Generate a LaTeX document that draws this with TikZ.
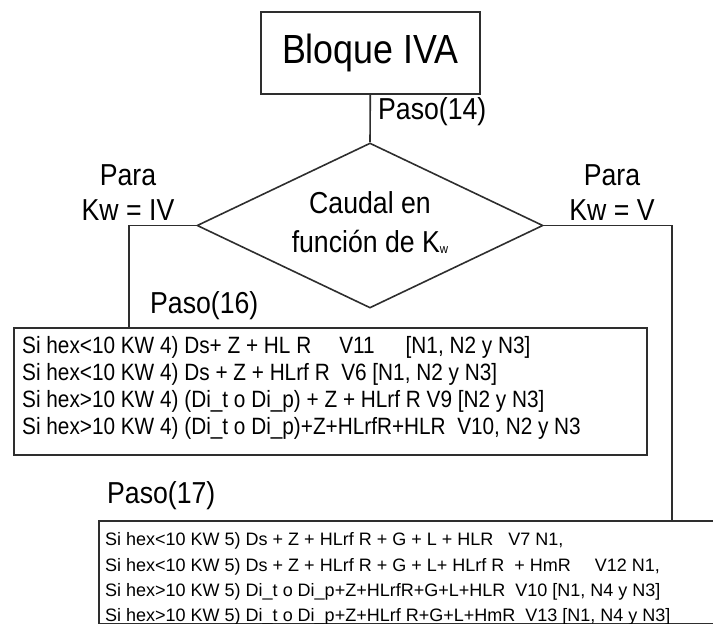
\documentclass[tikz,border=0pt]{standalone}
\usepackage{fontspec}
\setmainfont{Liberation Sans}
\newfontfamily\narrowfont[FakeStretch=0.88]{Liberation Sans}
\usetikzlibrary{shapes.geometric}
\begin{document}
\begin{tikzpicture}[x=1pt,y=-1pt,
  lw/.style={line width=1.6pt, draw=black!82},
  boxs/.style={lw, rectangle, inner sep=0, anchor=north west},
  mid/.style={inner sep=0, anchor=base, font=\narrowfont\fontsize{30.3}{33}\selectfont},
  midw/.style={mid, anchor=base west},
  rowa/.style={inner sep=0, anchor=base west, font=\narrowfont\fontsize{23.6}{26}\selectfont},
  rowb/.style={inner sep=0, anchor=base west, font=\fontsize{18}{21}\selectfont}]
\useasboundingbox (0,0) rectangle (713,624);
\clip (0,0) rectangle (713,624);

% boxes
\node[boxs, minimum width=219pt, minimum height=82pt,
      font=\narrowfont\fontsize{40.7}{44}\selectfont] (bloque) at (260,11) {Bloque IVA};
\node[draw, lw, diamond, aspect=2.1, inner sep=0,
      minimum width=346pt, minimum height=165pt] (dia) at (370,225.5) {};
\node[boxs, minimum width=633pt, minimum height=127pt] (box1) at (13,327) {};
\node[boxs, minimum width=640pt, minimum height=103pt] (box2) at (98,520) {};

% connectors
\coordinate (lc) at (129,327);
\coordinate (rc) at (672,520);
\draw[lw] (bloque.south) -- (dia.north);
\draw[lw] (dia.west) -| (lc);
\draw[lw] (dia.east) -| (rc);

% labels
\node[midw] (p14) at (378,119.5) {Paso(14)};
\node[mid] (paraL) at (128,185) {Para};
\node[mid] (kwL) at (128,220) {Kw = IV};
\node[mid] (paraR) at (612,185) {Para};
\node[mid] (kwR) at (612,220) {Kw = V};
\node[mid] (cau1) at (370,213) {Caudal en};
\node[mid] (cau2) at (370,252) {función de K\raisebox{-1.5pt}{\fontsize{13}{13}\selectfont w}};
\node[midw] (p16) at (150,313) {Paso(16)};
\node[midw] (p17) at (107,503) {Paso(17)};

% box 1 rows
\node[rowa] (a1) at (22,353) {Si hex<10 KW 4) Ds+ Z + HL R\hspace{28pt}V11\hspace{31pt}[N1, N2 y N3]};
\node[rowa] (a2) at (22,380) {Si hex<10 KW 4) Ds + Z + HLrf R\ \ V6 [N1, N2 y N3]};
\node[rowa] (a3) at (22,407) {Si hex>10 KW 4) (Di\_t o Di\_p) + Z + HLrf R V9 [N2 y N3]};
\node[rowa] (a4) at (22,434) {Si hex>10 KW 4) (Di\_t o Di\_p)+Z+HLrfR+HLR\ \ V10, N2 y N3};

% box 2 rows
\node[rowb] (b1) at (105,545) {Si hex<10 KW 5) Ds + Z + HLrf R + G + L + HLR\ \ \ V7 N1,};
\node[rowb] (b2) at (105,571) {Si hex<10 KW 5) Ds + Z + HLrf R + G + L+ HLrf R\ \ + HmR\hspace{24pt}V12 N1,};
\node[rowb] (b3) at (105,596) {Si hex>10 KW 5) Di\_t o Di\_p+Z+HLrfR+G+L+HLR\ \ V10 [N1, N4 y N3]};
\node[rowb] (b4) at (105,621) {Si hex>10 KW 5) Di\_t o Di\_p+Z+HLrf R+G+L+HmR\ \ V13 [N1, N4 y N3]};
\end{tikzpicture}
\end{document}
